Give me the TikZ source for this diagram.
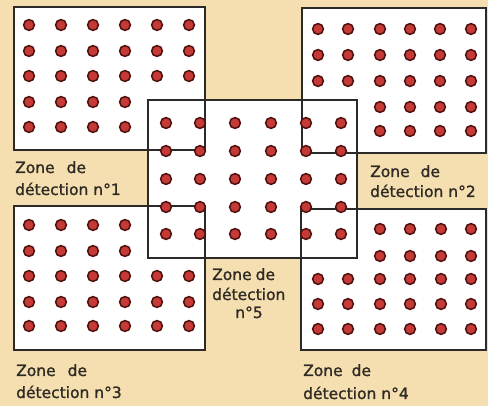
\documentclass[tikz,border=0pt]{standalone}
\usepackage{fontspec}
\setmainfont{DejaVu Sans}
\newfontfamily\lblfont{DejaVu Sans}[FakeBold=1.2]
\definecolor{bg}{HTML}{F5DFB0}
\definecolor{boxline}{HTML}{2B2A28}
\definecolor{dotred}{HTML}{C53A36}
\definecolor{dotrim}{HTML}{4E100E}
\definecolor{ink}{HTML}{2E2A24}
\begin{document}
\begin{tikzpicture}[x=1pt,y=-1pt,
  zonefill/.style={fill=white},
  zoneline/.style={draw=boxline,line width=1.7pt,line join=miter},
  dotc/.style={fill=dotred,draw=dotrim,line width=1.5pt},
  lbl/.style={anchor=base west,inner sep=0pt,text=ink,font=\lblfont\fontsize{15.5}{18}\selectfont},
  lblc/.style={anchor=base,inner sep=0pt,text=ink,font=\lblfont\fontsize{15.5}{18}\selectfont}]
\useasboundingbox (0,0) rectangle (488,406);
\fill[bg] (0,0) rectangle (488,406);
% zones: fills
\foreach \a/\b/\c/\d in {14/7/205/150, 302/8/486/153, 14/206/205/350, 301/209/486/350, 148/100/357/258}
  \fill[zonefill] (\a,\b) rectangle (\c,\d);
% zones: outlines
\foreach \a/\b/\c/\d in {14/7/205/150, 302/8/486/153, 14/206/205/350, 301/209/486/350, 148/100/357/258}
  \draw[zoneline] (\a,\b) rectangle (\c,\d);
% zone 1 dots
\foreach \y in {25,51,76} \foreach \x in {29,61,93,125,157,189}
  \filldraw[dotc] (\x,\y) circle[radius=5.4pt];
\foreach \y in {102,127} \foreach \x in {29,61,93,125}
  \filldraw[dotc] (\x,\y) circle[radius=5.4pt];
% zone 2 dots
\foreach \y in {29,55,81} \foreach \x in {318,348,380,410,440,471}
  \filldraw[dotc] (\x,\y) circle[radius=5.4pt];
\foreach \y in {107,131} \foreach \x in {380,410,440,471}
  \filldraw[dotc] (\x,\y) circle[radius=5.4pt];
% zone 3 dots
\foreach \y in {225,251} \foreach \x in {29,61,93,125}
  \filldraw[dotc] (\x,\y) circle[radius=5.4pt];
\foreach \y in {276,302,326} \foreach \x in {29,61,93,125,157,189}
  \filldraw[dotc] (\x,\y) circle[radius=5.4pt];
% zone 4 dots
\foreach \y in {229,256} \foreach \x in {380,410,441,471}
  \filldraw[dotc] (\x,\y) circle[radius=5.4pt];
\foreach \y in {279,304,329} \foreach \x in {318,348,380,410,441,471}
  \filldraw[dotc] (\x,\y) circle[radius=5.4pt];
% zone 5 dots
\foreach \y in {123,151,179,207,234} \foreach \x in {166,200,235,271,306,341}
  \filldraw[dotc] (\x,\y) circle[radius=5.4pt];
% labels
\node[lbl] (l1a) at (15,173) {Zone\hspace{12pt}de};
\node[lbl] (l1b) at (15,195) {détection n°1};
\node[lbl] (l2a) at (370,177) {Zone\hspace{11pt}de};
\node[lbl] (l2b) at (370,197) {détection n°2};
\node[lbl] (l3a) at (16,376) {Zone\hspace{12pt}de};
\node[lbl] (l3b) at (16,398) {détection n°3};
\node[lbl] (l4a) at (303,376) {Zone\hspace{9pt}de};
\node[lbl] (l4b) at (303,399) {détection n°4};
\node[lbl] (l5a) at (212,280) {Zone\hspace{4pt}de};
\node[lbl] (l5b) at (212,300) {détection};
\node[lblc] (l5c) at (249,318) {n°5};
\end{tikzpicture}
\end{document}
